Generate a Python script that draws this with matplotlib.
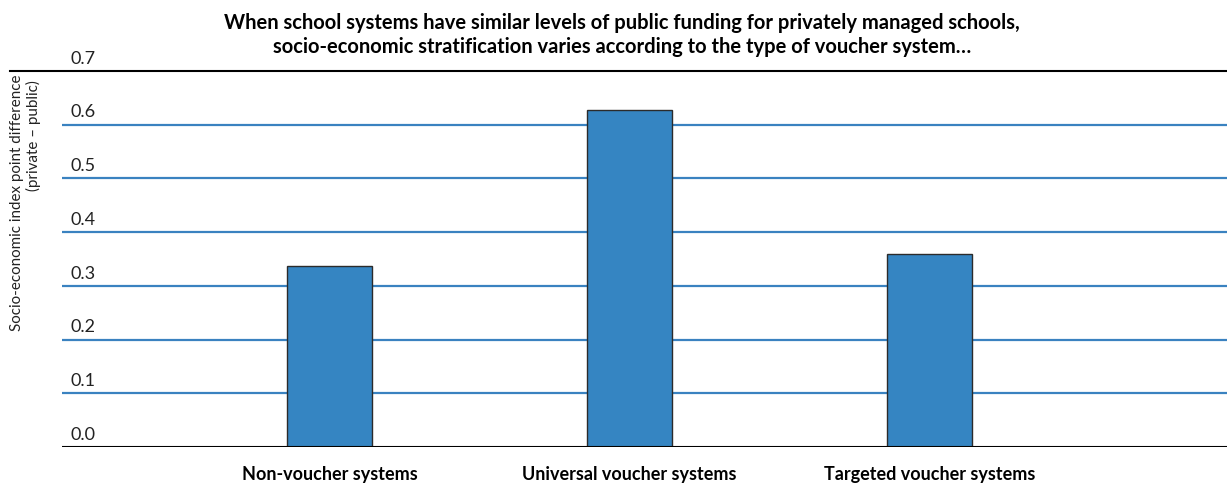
import numpy as np
import matplotlib.pyplot as plt

plt.rcParams['font.family'] = ['Lato', 'DejaVu Sans']

categories = ['Non-voucher systems', 'Universal voucher systems', 'Targeted voucher systems']
values = [0.337, 0.627, 0.360]
yticks = [0.0, 0.1, 0.2, 0.3, 0.4, 0.5, 0.6, 0.7]
title = ('When school systems have similar levels of public funding for privately managed schools,\n'
         'socio-economic stratification varies according to the type of voucher system\u2026')

fig = plt.figure(figsize=(12.27, 4.83), dpi=100)
ax = fig.add_axes([62 / 1227, 1 - 447 / 483, 1 - 62 / 1227, (447 - 71) / 483])

x = np.arange(len(categories))
ax.bar(x, values, width=0.283, color='#3585c2', edgecolor='#2b2b2b', linewidth=1, zorder=3)

ax.set_xlim(-0.892, 2.992)
ax.set_ylim(0, 0.7)

# grid lines
for v in yticks[1:-1]:
    ax.axhline(v, color='#3a82c0', lw=1.6, zorder=1)
ax.axhline(0.7, xmin=-0.0446, xmax=1, color='black', lw=1.5, clip_on=False, zorder=2)
ax.axhline(0.0, color='black', lw=1.5, zorder=4)

for s in ax.spines.values():
    s.set_visible(False)

ax.set_yticks([])
for v in yticks:
    ax.text(0.007, v + 0.008, f'{v:.1f}', transform=ax.get_yaxis_transform(),
            ha='left', va='bottom', fontsize=13, color='#222222')

ax.set_xticks(x)
ax.set_xticklabels(categories, fontsize=13, fontweight='bold')
ax.tick_params(axis='x', length=0, pad=14)

fig.text(622 / 1227, 1 - 35 / 483, title, ha='center', va='center',
         fontsize=14.5, fontweight='bold', linespacing=1.3)

fig.text(17 / 1227, 1 - 203 / 483, 'Socio-economic index point difference',
         rotation=90, ha='center', va='center', fontsize=10.9, color='#222222')
fig.text(33 / 1227, 1 - 80 / 483, '(private \u2013 public)',
         rotation=90, ha='center', va='top', fontsize=10.9, color='#222222')

fig.savefig('out.png', dpi=100)
